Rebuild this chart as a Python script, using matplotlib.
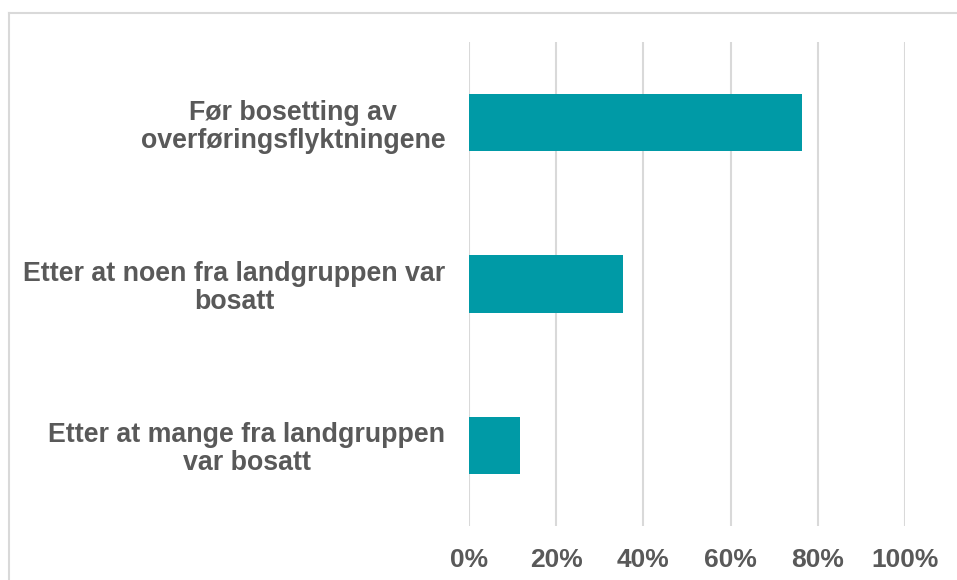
import matplotlib.pyplot as plt
from matplotlib.lines import Line2D

categories = ['Før bosetting av\noverføringsflyktningene',
              'Etter at noen fra landgruppen var\nbosatt',
              'Etter at mange fra landgruppen\nvar bosatt']
values = [76.4, 35.3, 11.7]
ticks = [0, 20, 40, 60, 80, 100]
tick_labels = ['0%', '20%', '40%', '60%', '80%', '100%']

W, H = 957, 580
plt.rcParams['font.family'] = ['Liberation Sans', 'DejaVu Sans']
fig = plt.figure(figsize=(W / 100, H / 100), dpi=100)
ax = fig.add_axes([469 / W, 1 - 526 / H, (905 - 469) / W, (526 - 42) / H])

ypos = list(range(len(categories)))
ax.barh(ypos, values, height=0.355, color='#009AA6', zorder=3)
ax.set_ylim(len(categories) - 0.5, -0.5)
ax.set_xlim(0, 100)
ax.set_yticks(ypos)
ax.set_yticklabels(categories, fontsize=19.3, fontweight='bold', color='#595959',
                   multialignment='center', linespacing=1.1)
ax.set_xticks(ticks)
ax.set_xticklabels(tick_labels, fontsize=19, fontweight='bold', color='#595959')
ax.tick_params(axis='y', length=0, pad=17)
ax.tick_params(axis='x', length=0, pad=16)
ax.grid(axis='x', color='#D9D9D9', linewidth=1.5, zorder=0)
for s in ax.spines.values():
    s.set_visible(False)

# chart border (only top and left visible in frame)
fig.add_artist(Line2D([8.5 / W, 8.5 / W], [0, 1 - 13 / H], transform=fig.transFigure,
                      color='#D9D9D9', linewidth=1.5))
fig.add_artist(Line2D([8.5 / W, 1], [1 - 13 / H, 1 - 13 / H], transform=fig.transFigure,
                      color='#D9D9D9', linewidth=1.5))

fig.savefig('out.png', dpi=100)
